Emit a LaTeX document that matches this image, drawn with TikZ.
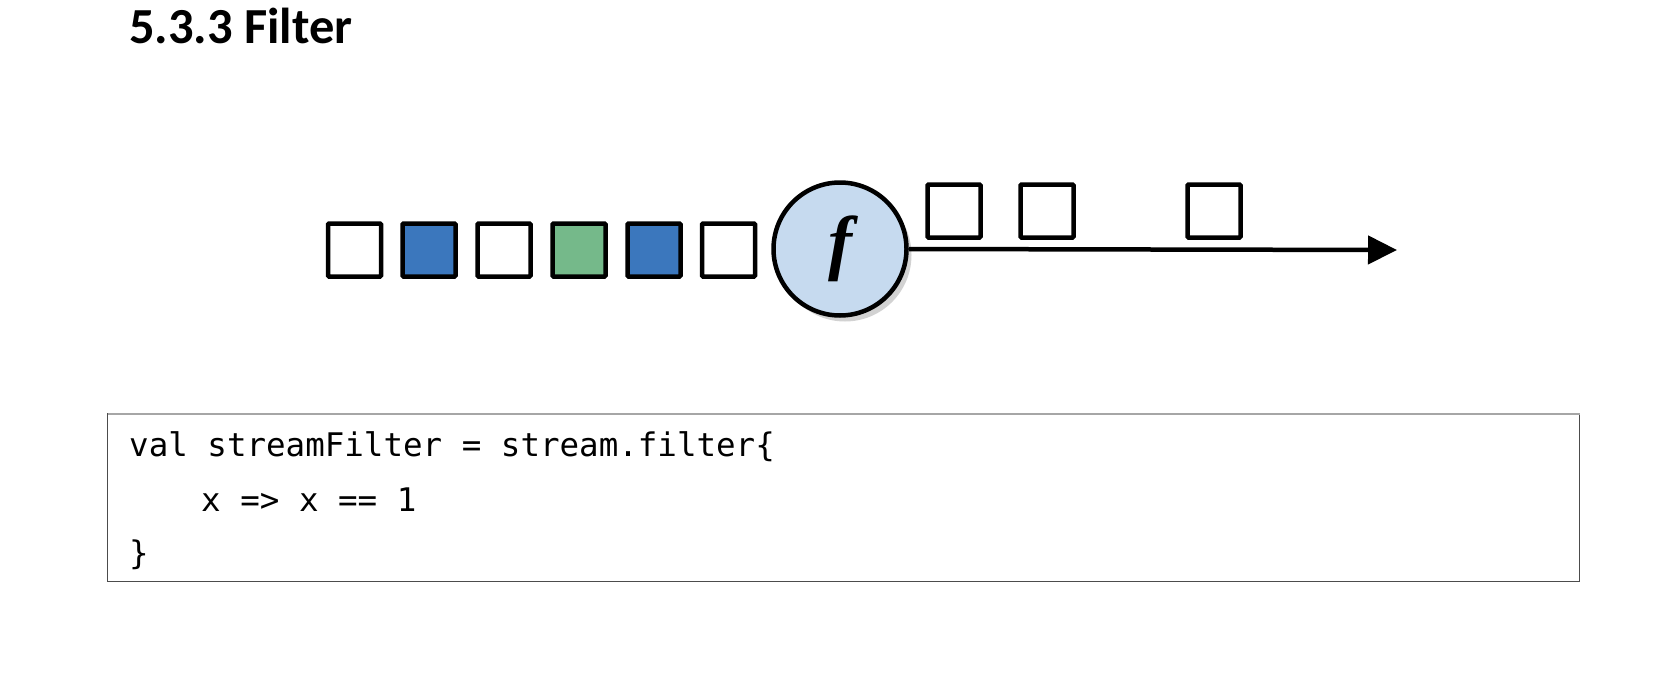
\documentclass[tikz,border=0pt]{standalone}
\usepackage{fontspec}
\setmainfont{Carlito}
\newfontfamily\codefont{DejaVu Sans Mono}
\newfontfamily\funcfont{Liberation Serif}
\usetikzlibrary{arrows.meta,shadows}

\definecolor{elemblue}{RGB}{59,119,189}
\definecolor{elemgreen}{RGB}{117,185,138}
\definecolor{funcblue}{RGB}{198,218,239}

\begin{document}
\begin{tikzpicture}[x=1pt, y=-1pt,
        elem/.style={draw, line width=4.5pt, minimum size=53pt, inner sep=0pt, rounded corners=1pt},
        code/.style={anchor=base west, inner sep=0pt, font=\codefont\fontsize{32.5}{32.5}\selectfont}]
        \fill[white] (0,0) rectangle (1670,672);
        \useasboundingbox (0,0) rectangle (1670,672);

        \node[anchor=base west, inner sep=0pt, font=\bfseries\fontsize{50.5}{50.5}\selectfont] (title) at (129,43) {5.3.3 Filter};

        % input stream
        \node[elem] (in1) at (354.5,250) {};
        \node[elem, fill=elemblue] (in2) at (429,250) {};
        \node[elem] (in3) at (504,250) {};
        \node[elem, fill=elemgreen] (in4) at (579,250) {};
        \node[elem, fill=elemblue] (in5) at (654,250) {};
        \node[elem] (in6) at (728.5,250) {};

        \node[draw, circle, line width=4.5pt, fill=funcblue, minimum size=133pt, inner sep=0pt,
              drop shadow={shadow xshift=5pt, shadow yshift=-6pt, opacity=0.35}] (f) at (840,249)
              {\raisebox{4pt}{\funcfont\bfseries\itshape\fontsize{72}{72}\selectfont f}};

        % output stream
        \coordinate (end) at (1397,250);
        \path[draw, line width=4.5pt, -{Triangle[length=29pt, width=28pt]}] (f.east) -- (end);
        \node[elem] (out1) at (954,211) {};
        \node[elem] (out2) at (1047,211) {};
        \node[elem] (out3) at (1214,211) {};

        % code
        \draw[line width=1.8pt, black!70] (107.5,414) rectangle (1579.5,581.5);
        \draw[line width=1.8pt, black!35] (107.5,414) -- (1579.5,414);
        \node[code] (code1) at (129,456) {val streamFilter = stream.filter\{};
        \node[code] (code2) at (201,511) {x => x == 1};
        \node[code] (code3) at (129,564) {\}};
    \end{tikzpicture}
\end{document}
